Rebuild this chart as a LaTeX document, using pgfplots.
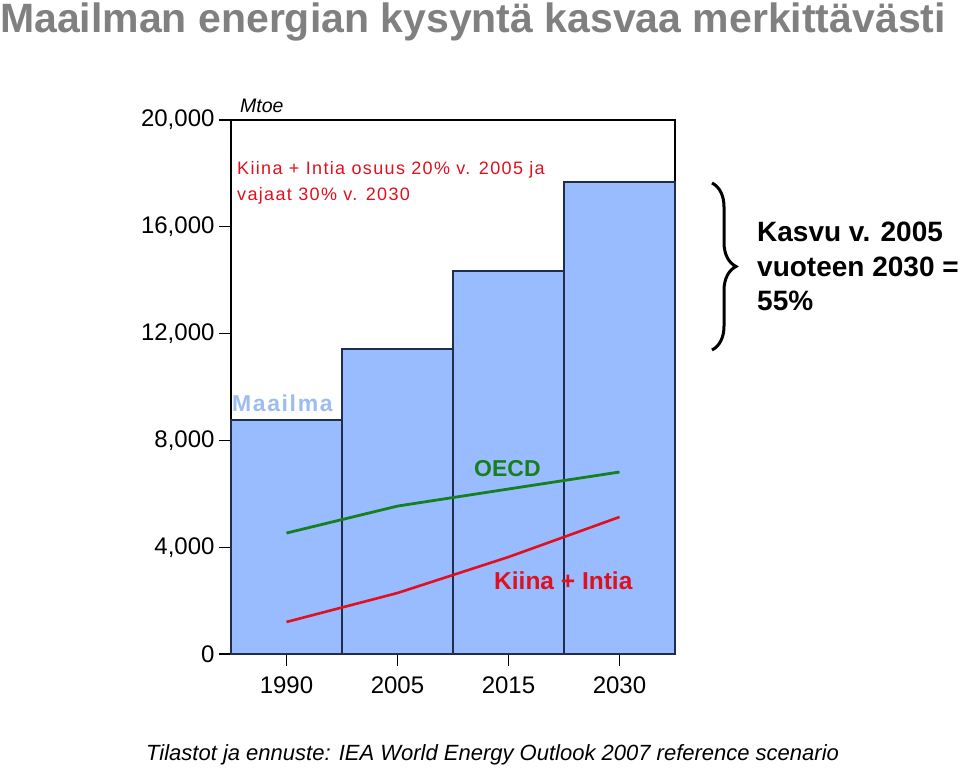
\documentclass[border=0pt]{standalone}
\usepackage{pgfplots}
\pgfplotsset{compat=1.18}
\usepackage{fontspec}
\setmainfont{Liberation Sans}
\usetikzlibrary{decorations.pathreplacing}
\definecolor{barfill}{HTML}{99BBFF}
\definecolor{baredge}{HTML}{1F2D4F}
\definecolor{oecd}{HTML}{17801E}
\definecolor{kiina}{HTML}{E0101C}
\definecolor{titlegray}{HTML}{808080}
\definecolor{maailma}{HTML}{9DBDEE}
\begin{document}
\begin{tikzpicture}
\path[use as bounding box] (0pt,0pt) rectangle (960pt,769pt);
\begin{axis}[
  at={(231pt,115pt)}, anchor=south west,
  scale only axis, width=444pt, height=534pt,
  xmin=-0.5, xmax=3.5, ymin=0, ymax=20000,
  xtick={0,1,2,3}, xticklabels={1990,2005,\raisebox{-3pt}{2015},\raisebox{3pt}{2030}},
  ytick={0,4000,8000,12000,16000,20000},
  scaled y ticks=false,
  /pgf/number format/1000 sep={,},
  /pgf/number format/assume math mode=true,
  tick label style={font=\fontsize{24}{28}\selectfont},
  tick align=outside, major tick length=12pt,
  xtick pos=bottom, ytick pos=left,
  tick style={black, line width=1.2pt},
  axis line style={black, line width=1.5pt},
  xticklabel style={yshift=-7pt},
  yticklabel style={xshift=-1pt},
  clip=false,
]
\addplot[ybar, bar width=1, fill=barfill, draw=baredge, line width=1.2pt] coordinates {(0,8764) (1,11423) (2,14345) (3,17678)};
\addplot[oecd, line width=2.8pt, no markers] coordinates {(0,4530) (1,5540) (2,6180) (3,6816)};
\addplot[kiina, line width=2.6pt, no markers] coordinates {(0,1200) (1,2285) (2,3633) (3,5131)};
\end{axis}
\node[anchor=base west, inner sep=0, text=titlegray, font=\fontsize{41}{45}\selectfont\bfseries] at (0pt,736pt) {Maailman energian kysyntä kasvaa merkittävästi};
\node[anchor=base west, inner sep=0, font=\fontsize{19.5}{22}\selectfont\itshape] at (240pt,656pt) {Mtoe};
\node[anchor=base west, inner sep=0, text=kiina, font=\fontsize{18}{20}\selectfont\addfontfeatures{LetterSpace=7.5}] at (237pt,594pt) {Kiina + Intia osuus 20\% v. 2005 ja};
\node[anchor=base west, inner sep=0, text=kiina, font=\fontsize{18}{20}\selectfont\addfontfeatures{LetterSpace=7.5}] at (237pt,568pt) {vajaat 30\% v. 2030};
\node[anchor=base west, inner sep=0, text=maailma, font=\fontsize{23}{26}\selectfont\bfseries\addfontfeatures{LetterSpace=7}] at (232pt,357pt) {Maailma};
\node[anchor=base west, inner sep=0, text=oecd, font=\fontsize{23}{26}\selectfont\bfseries] at (474pt,293pt) {OECD};
\node[anchor=base west, inner sep=0, text=kiina, font=\fontsize{24.5}{28}\selectfont\bfseries] at (494pt,180pt) {Kiina + Intia};
\node[anchor=base west, inner sep=0, font=\fontsize{28}{32}\selectfont\bfseries] at (757pt,527pt) {Kasvu v. 2005};
\node[anchor=base west, inner sep=0, font=\fontsize{28}{32}\selectfont\bfseries] at (757pt,492pt) {vuoteen 2030 =};
\node[anchor=base west, inner sep=0, font=\fontsize{28}{32}\selectfont\bfseries] at (757pt,458pt) {55\%};
\draw[line width=3pt, decorate, decoration={brace, amplitude=24pt}] (712pt,586pt) -- (712pt,419pt);
\node[anchor=base west, inner sep=0, font=\fontsize{22}{26}\selectfont\itshape] at (146pt,9pt) {Tilastot ja ennuste: IEA World Energy Outlook 2007 reference scenario};
\end{tikzpicture}
\end{document}
